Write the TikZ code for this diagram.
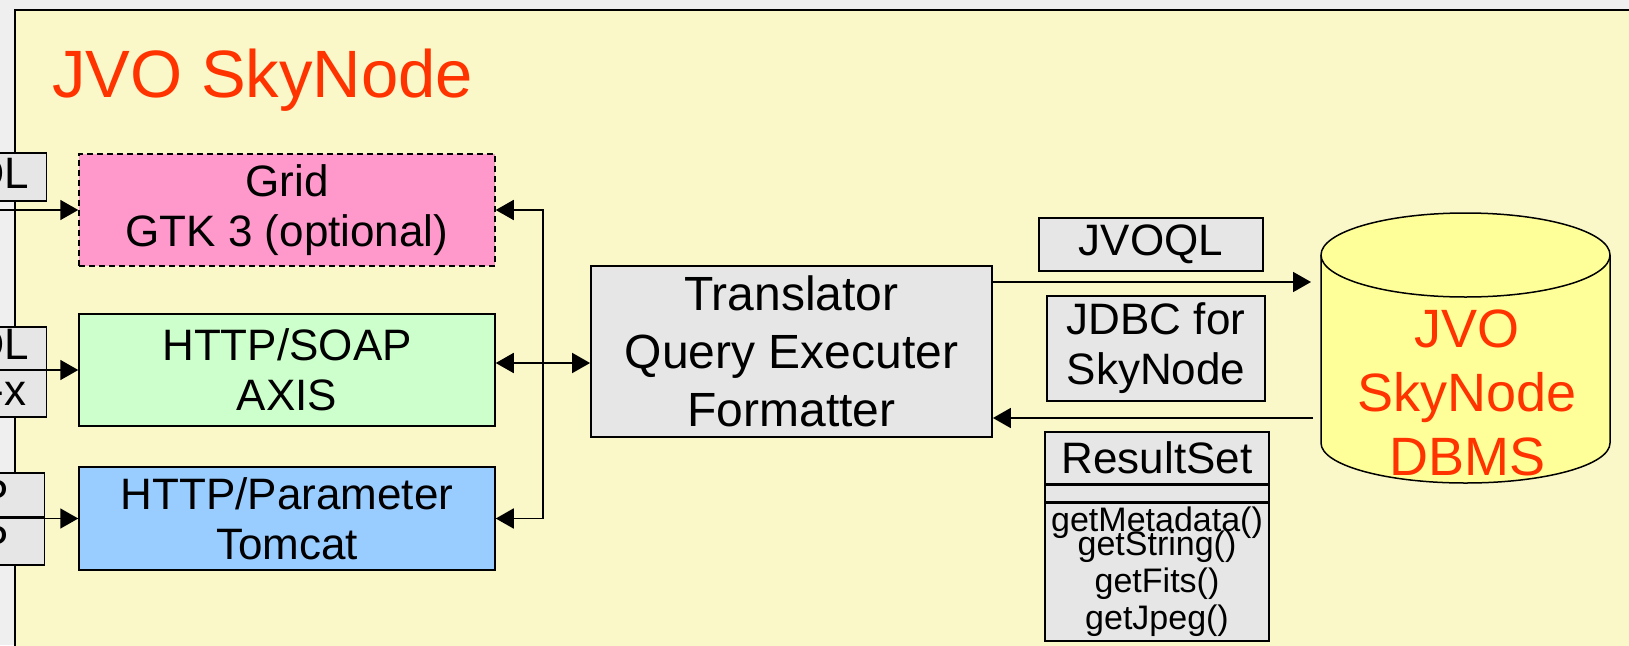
\documentclass[tikz,border=0pt]{standalone}
\usepackage{fontspec}
\setmainfont{Liberation Sans}
\usetikzlibrary{positioning}
\usetikzlibrary{arrows.meta}
\definecolor{page colour}{HTML}{EFEFEF}
\definecolor{panel colour}{HTML}{FAF7C8}
\definecolor{title colour}{HTML}{FF3300}
\definecolor{grid colour}{HTML}{FF99CC}
\definecolor{soap colour}{HTML}{CCFFCC}
\definecolor{param colour}{HTML}{99CCFF}
\definecolor{box colour}{HTML}{E6E6E6}
\definecolor{db colour}{HTML}{FFFF99}
\tikzset{
    % Big filled triangles on every connector
    >={Triangle[length=18pt,width=20pt]},
%
    % Fills for the boxes
    grey fill/.style={fill=box colour},
    grid fill/.style={fill=grid colour},
    soap fill/.style={fill=soap colour},
    param fill/.style={fill=param colour},
    % Outlines and lines
    box/.style={draw, rectangle, line width=1.5pt, inner sep=0pt},
    link/.style={line width=1.8pt},
    % Text sizes
    box text/.style={font=\fontsize{44}{50}\selectfont},
    big text/.style={font=\fontsize{48}{58}\selectfont},
    % Boxes running off the left edge, text pushed to their right side
    cut box/.style={box, grey fill, box text, anchor=east,
        text width=80pt, align=right, inner xsep=#1},
    every node/.style={align=center},
}

\begin{document}
\begin{tikzpicture}[x=1pt, y=-1pt]

\useasboundingbox (0,0) rectangle (1629,645);
\clip (0,0) rectangle (1629,645);
\fill [page colour] (0,0) rectangle (1629,645);
\draw [line width=2pt, fill=panel colour] (15,10) rectangle (1700,700);

\node (title) [anchor=base west, inner sep=0pt, text=title colour,
    font=\fontsize{67}{80}\selectfont] at (52,97) {JVO SkyNode};

% Boxes cut off at the left edge
\node (qlA) [cut box=17pt, minimum height=48pt] at (47,177) {QL};
\node (qlB) [cut box=17pt, minimum height=43pt] at (47,348.5) {QL};
\node (qlX) [cut box=20pt, minimum height=47pt] at (47,393.5) {-x};
\node (httpA) [cut box=35pt, minimum height=44pt] at (45,495) {P};
\node (httpB) [cut box=35pt, minimum height=48pt] at (45,541) {P};

\path
    (287,210) node (grid) [box, grid fill, box text, dash pattern=on 6pt off 4pt,
        minimum width=416pt, minimum height=112pt] {Grid\\GTK 3 (optional)}
    (287,370) node (soap) [box, soap fill, box text,
        minimum width=416pt, minimum height=112pt] {HTTP/SOAP\\AXIS}
    (287,518.5) node (param) [box, param fill, box text,
        minimum width=416pt, minimum height=103pt] {HTTP/Parameter\\Tomcat};

\node (trans) [box, grey fill, big text, line width=1.8pt,
    minimum width=401pt, minimum height=171pt]
    at (791.5,351.5) {Translator\\Query Executer\\Formatter};

\path
    (1151,244.5) node (jvoql) [box, grey fill, box text,
        minimum width=224pt, minimum height=53pt] {JVOQL}
    (1156,348.5) node (jdbc) [box, grey fill, box text,
        minimum width=218pt, minimum height=105pt] {JDBC for\\SkyNode};

\node (rshead) [box, grey fill, box text, minimum width=224pt, minimum height=52pt]
    at (1157,458) {ResultSet};
\node (rsattr) [box, grey fill, minimum width=224pt, minimum height=16pt,
    below=0pt of rshead] {};
\node (rsops) [box, grey fill, minimum width=224pt, minimum height=138pt,
    below=0pt of rsattr, font=\fontsize{34}{37}\selectfont]
    {getMetadata()\\[-13pt]getString()\\getFits()\\getJpeg()};

% the database drum
\draw [line width=1.5pt, fill=db colour] (1321,255) -- (1321,443)
    arc[start angle=180, end angle=360, x radius=144.5pt, y radius=40pt]
    -- (1610,255)
    arc[start angle=0, end angle=180, x radius=144.5pt, y radius=42pt] -- cycle;
\draw [line width=1.5pt] (1321,255)
    arc[start angle=180, end angle=360, x radius=144.5pt, y radius=42pt];
\node (dbms) [text=title colour, font=\fontsize{54}{64}\selectfont]
    at (1467,393) {JVO\\SkyNode\\DBMS};

\coordinate (ingrid) at (0,210);
\coordinate (insoap) at (0,370);
\coordinate (inparam) at (0,518.5);
\coordinate (bus) at (543,363);
\coordinate (dbin) at (1311,282);
\coordinate (dbout) at (1313,418);

\draw [link, ->] (ingrid) -- (grid);
\draw [link, ->] (insoap) -- (soap);
\draw [link, ->] (inparam) -- (param);
\draw [link, <->] (grid.east) -| (bus) |- (param.east);
\draw [link, <->] (soap.east |- bus) -- (trans.west |- bus);
\draw [link, ->] (trans.east |- dbin) -- (dbin);
\draw [link, ->] (dbout) -- (trans.east |- dbout);

\end{tikzpicture}
\end{document}
